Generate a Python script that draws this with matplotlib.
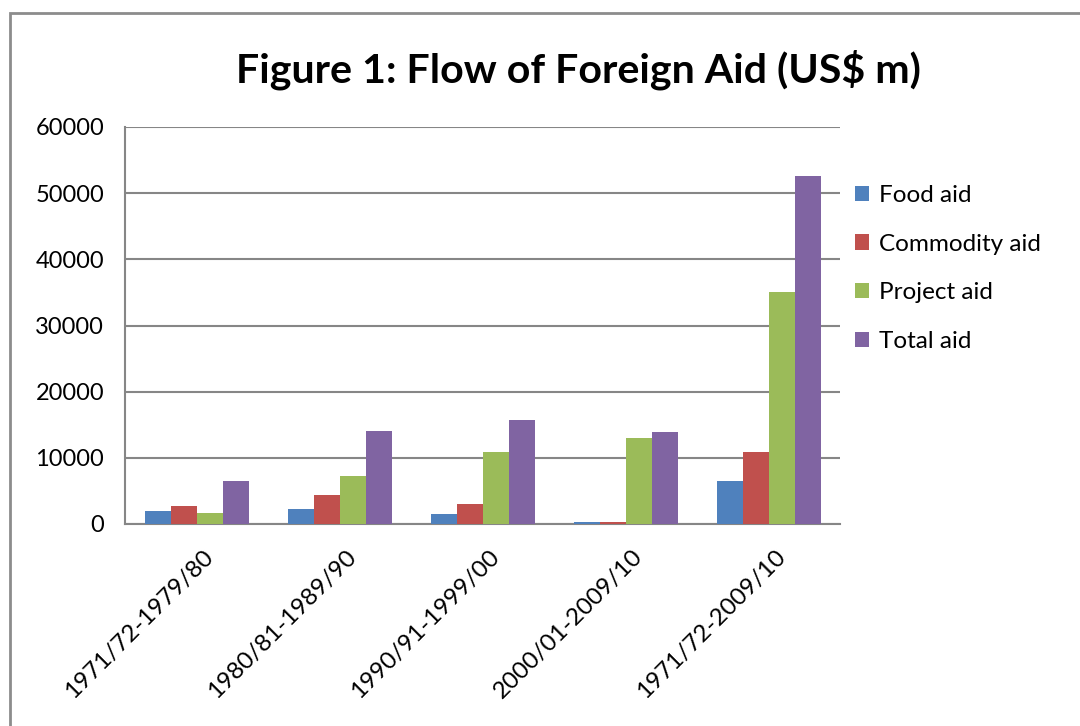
import matplotlib
matplotlib.use("Agg")
import matplotlib.pyplot as plt
import matplotlib.transforms as mtransforms
import numpy as np
from matplotlib.patches import Rectangle

categories = ["1971/72-1979/80", "1980/81-1989/90", "1990/91-1999/00", "2000/01-2009/10", "1971/72-2009/10"]
food_aid = [2000, 2270, 1510, 300, 6500]
commodity_aid = [2720, 4380, 3020, 300, 10880]
project_aid = [1660, 7250, 10880, 13000, 35050]
total_aid = [6500, 14050, 15700, 13900, 52570]
series_names = ["Food aid", "Commodity aid", "Project aid", "Total aid"]
colors = ["#4F81BD", "#C0504D", "#9BBB59", "#8064A2"]
yticks = [0, 10000, 20000, 30000, 40000, 50000, 60000]

plt.rcParams['font.family'] = ['Lato', 'DejaVu Sans']

W, H = 1080, 726
fig = plt.figure(figsize=(W/100, H/100), dpi=100)
fig.patch.set_facecolor("white")

# outer frame
fig.patches.append(Rectangle((10/W, -0.1), 1.2, (H-13)/H + 0.1, transform=fig.transFigure,
                             fill=False, edgecolor="#8c8c8c", linewidth=2.0))

ax = fig.add_axes([125/W, 1-524/H, (840-125)/W, (524-127)/H])
series = [food_aid, commodity_aid, project_aid, total_aid]
x = np.arange(len(categories))
bw = 1/5.5
for i, (vals, name, c) in enumerate(zip(series, series_names, colors)):
    ax.bar(x + (i-1.5)*bw, vals, width=bw, color=c, label=name, zorder=3)

ax.set_xlim(-0.5, len(categories)-0.5)
ax.set_ylim(0, 60000)
ax.set_yticks(yticks)
ax.set_yticklabels([str(v) for v in yticks], fontsize=17)
ax.set_xticks(x)
ax.set_xticklabels(categories, rotation=45, ha="right", va="top", rotation_mode="anchor", fontsize=17.5)
ax.tick_params(axis="both", length=0)
ax.tick_params(axis="y", pad=15)
ax.tick_params(axis="x", pad=10)
offset = mtransforms.ScaledTranslation(6/100, -8/100, fig.dpi_scale_trans)
for lab in ax.get_xticklabels():
    lab.set_transform(lab.get_transform() + offset)
ax.yaxis.grid(True, color="#868686", linewidth=1.5, zorder=0)
for s in ["top", "right"]:
    ax.spines[s].set_visible(False)
ax.spines["left"].set_color("#868686")
ax.spines["bottom"].set_color("#868686")
ax.spines["left"].set_linewidth(1.5)
ax.spines["bottom"].set_linewidth(1.5)

fig.text(578/W, 1-70/H, "Figure 1: Flow of Foreign Aid (US$ m)", ha="center", va="center",
         fontsize=29.6, fontweight="bold")

leg = ax.legend(loc="upper left", bbox_to_anchor=(850/W, 1-180/H), bbox_transform=fig.transFigure,
                frameon=False, fontsize=17.5, handlelength=0.6, handleheight=0.6,
                labelspacing=1.14, handletextpad=0.4, borderpad=0.2, borderaxespad=0)

fig.savefig("out.png", dpi=100)
